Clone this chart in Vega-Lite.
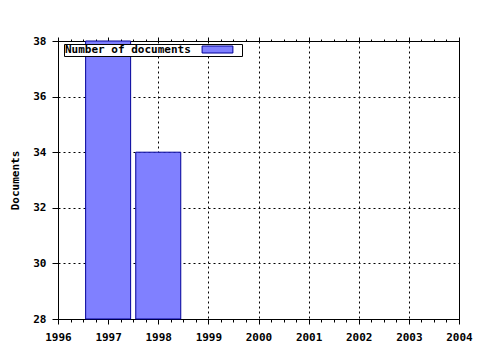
{
  "$schema": "https://vega.github.io/schema/vega-lite/v6.json",
  "width": 401,
  "height": 278,
  "autosize": {"type": "none"},
  "padding": {"left": 58, "top": 41, "right": 21, "bottom": 31},
  "background": "white",
  "config": {
    "font": "DejaVu Sans Mono",
    "view": {"stroke": null},
    "axis": {
      "labelFont": "DejaVu Sans Mono",
      "labelFontWeight": "bold",
      "labelFontSize": 11,
      "labelColor": "black",
      "titleFont": "DejaVu Sans Mono",
      "titleFontWeight": "bold",
      "titleFontSize": 11,
      "titleColor": "black",
      "domainColor": "black",
      "domainWidth": 1,
      "tickColor": "black",
      "tickWidth": 1,
      "gridColor": "black",
      "gridDash": [2, 3],
      "gridWidth": 1
    }
  },
  "data": {
    "values": [
      {"year": 1997, "documents": 38, "series": "Number of documents"},
      {"year": 1998, "documents": 34, "series": "Number of documents"}
    ]
  },
  "resolve": {"axis": {"x": "independent", "y": "independent"}},
  "layer": [
    {
      "mark": {"type": "bar", "width": 45, "stroke": "#000099", "strokeWidth": 1},
      "encoding": {
        "x": {
          "field": "year",
          "type": "quantitative",
          "scale": {"domain": [1996, 2004], "nice": false, "zero": false, "padding": 0},
          "axis": {
            "orient": "bottom",
            "title": null,
            "values": [1996, 1996.25, 1996.5, 1996.75, 1997, 1997.25, 1997.5, 1997.75, 1998, 1998.25, 1998.5, 1998.75, 1999, 1999.25, 1999.5, 1999.75, 2000, 2000.25, 2000.5, 2000.75, 2001, 2001.25, 2001.5, 2001.75, 2002, 2002.25, 2002.5, 2002.75, 2003, 2003.25, 2003.5, 2003.75, 2004],
            "labelExpr": "datum.value % 1 === 0 ? format(datum.value, 'd') : ''",
            "labelOverlap": false,
            "labelFlush": false,
            "labelPadding": 7,
            "tickSize": {"condition": {"test": "datum.value % 1 === 0", "value": 5}, "value": 3},
            "grid": true,
            "gridOpacity": {"condition": {"test": "datum.value % 1 === 0", "value": 1}, "value": 0}
          }
        },
        "y": {
          "field": "documents",
          "type": "quantitative",
          "scale": {"domain": [28, 38], "nice": false, "zero": false},
          "axis": {
            "orient": "left",
            "title": "Documents",
            "values": [28, 30, 32, 34, 36, 38],
            "tickSize": 6,
            "labelPadding": 6,
            "titlePadding": 12,
            "grid": true
          }
        },
        "y2": {"datum": 28},
        "fill": {
          "field": "series",
          "type": "nominal",
          "scale": {"range": ["#8080ff"]},
          "legend": {
            "orient": "none",
            "legendX": 6,
            "legendY": 3,
            "title": "Number of documents",
            "titleOrient": "left",
            "titleFont": "DejaVu Sans Mono",
            "titleFontWeight": "bold",
            "titleFontSize": 11,
            "titleColor": "black",
            "titlePadding": 22,
            "fillColor": "white",
            "strokeColor": "black",
            "padding": 1,
            "symbolType": "M-4.4,-1L4.4,-1L4.4,1L-4.4,1Z",
            "symbolSize": 49,
            "symbolStrokeColor": "#000099",
            "symbolStrokeWidth": 1,
            "labelExpr": "''",
            "labelOffset": 19,
            "labelFontSize": 9
          }
        }
      }
    },
    {
      "mark": {"type": "point", "opacity": 0},
      "encoding": {
        "x": {
          "field": "year",
          "type": "quantitative",
          "axis": {
            "orient": "top",
            "title": null,
            "labels": false,
            "grid": false,
            "values": [1996, 1996.25, 1996.5, 1996.75, 1997, 1997.25, 1997.5, 1997.75, 1998, 1998.25, 1998.5, 1998.75, 1999, 1999.25, 1999.5, 1999.75, 2000, 2000.25, 2000.5, 2000.75, 2001, 2001.25, 2001.5, 2001.75, 2002, 2002.25, 2002.5, 2002.75, 2003, 2003.25, 2003.5, 2003.75, 2004],
            "tickSize": {"condition": {"test": "datum.value % 1 === 0", "value": 4}, "value": 2}
          }
        },
        "y": {
          "field": "documents",
          "type": "quantitative",
          "axis": {
            "orient": "right",
            "title": null,
            "labels": false,
            "ticks": false,
            "grid": false
          }
        }
      }
    }
  ]
}
